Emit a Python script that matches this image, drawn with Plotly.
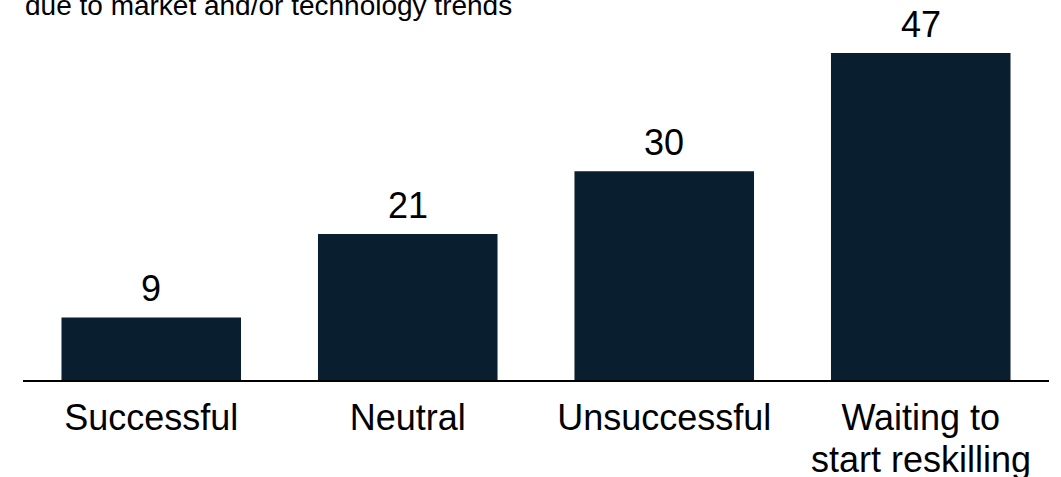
import plotly.graph_objects as go

# Survey outcome categories and share of respondents (%)
categories = ["Successful", "Neutral", "Unsuccessful", "Waiting to start reskilling"]
label_lines = [["Successful"], ["Neutral"], ["Unsuccessful"], ["Waiting to", "start reskilling"]]
values = [9, 21, 30, 47]
subtitle = "due to market and/or technology trends"

BAR_COLOR = "#091E2E"
FONT = "Liberation Sans, Arial, sans-serif"
LABEL_SIZE = 36
LINE_STEP = 41  # tighter line pitch for wrapped category labels

fig = go.Figure(
    go.Bar(
        x=categories,
        y=values,
        marker=dict(color=BAR_COLOR, line=dict(width=0)),
        hoverinfo="skip",
    )
)

# Value labels above each bar
for cat, val in zip(categories, values):
    fig.add_annotation(
        x=cat, y=val, xref="x", yref="y",
        text=str(val), showarrow=False,
        yanchor="bottom", yshift=6,
        font=dict(size=LABEL_SIZE, color="black", family=FONT),
    )

# Continuation lines of wrapped category labels
for cat, lines in zip(categories, label_lines):
    for i, line in enumerate(lines[1:], start=1):
        fig.add_annotation(
            x=cat, y=0, xref="x", yref="paper",
            text=line, showarrow=False,
            yanchor="top", yshift=-(16 + i * LINE_STEP),
            font=dict(size=LABEL_SIZE, color="black", family=FONT),
        )

# Heading line partly above the plot area
fig.add_annotation(
    x=0.0, y=1.115, xref="paper", yref="paper",
    text=subtitle, showarrow=False,
    xanchor="left", yanchor="bottom", yshift=-8,
    font=dict(size=28, color="black", family=FONT),
)

fig.update_layout(
    width=1061, height=477,
    margin=dict(l=23, r=12, t=53, b=97),
    paper_bgcolor="white", plot_bgcolor="white",
    bargap=0.3,
    showlegend=False,
    font=dict(family=FONT, size=LABEL_SIZE, color="black"),
    xaxis=dict(
        showline=True, linecolor="black", linewidth=2,
        showgrid=False, zeroline=False, ticks="",
        automargin=False, ticklabelstandoff=5,
        tickmode="array", tickvals=categories,
        ticktext=[lines[0] for lines in label_lines],
        tickfont=dict(size=LABEL_SIZE, color="black", family=FONT),
    ),
    yaxis=dict(
        range=[0, 47], visible=False, showgrid=False, zeroline=False,
        automargin=False,
    ),
)

fig.write_html("out.html")
